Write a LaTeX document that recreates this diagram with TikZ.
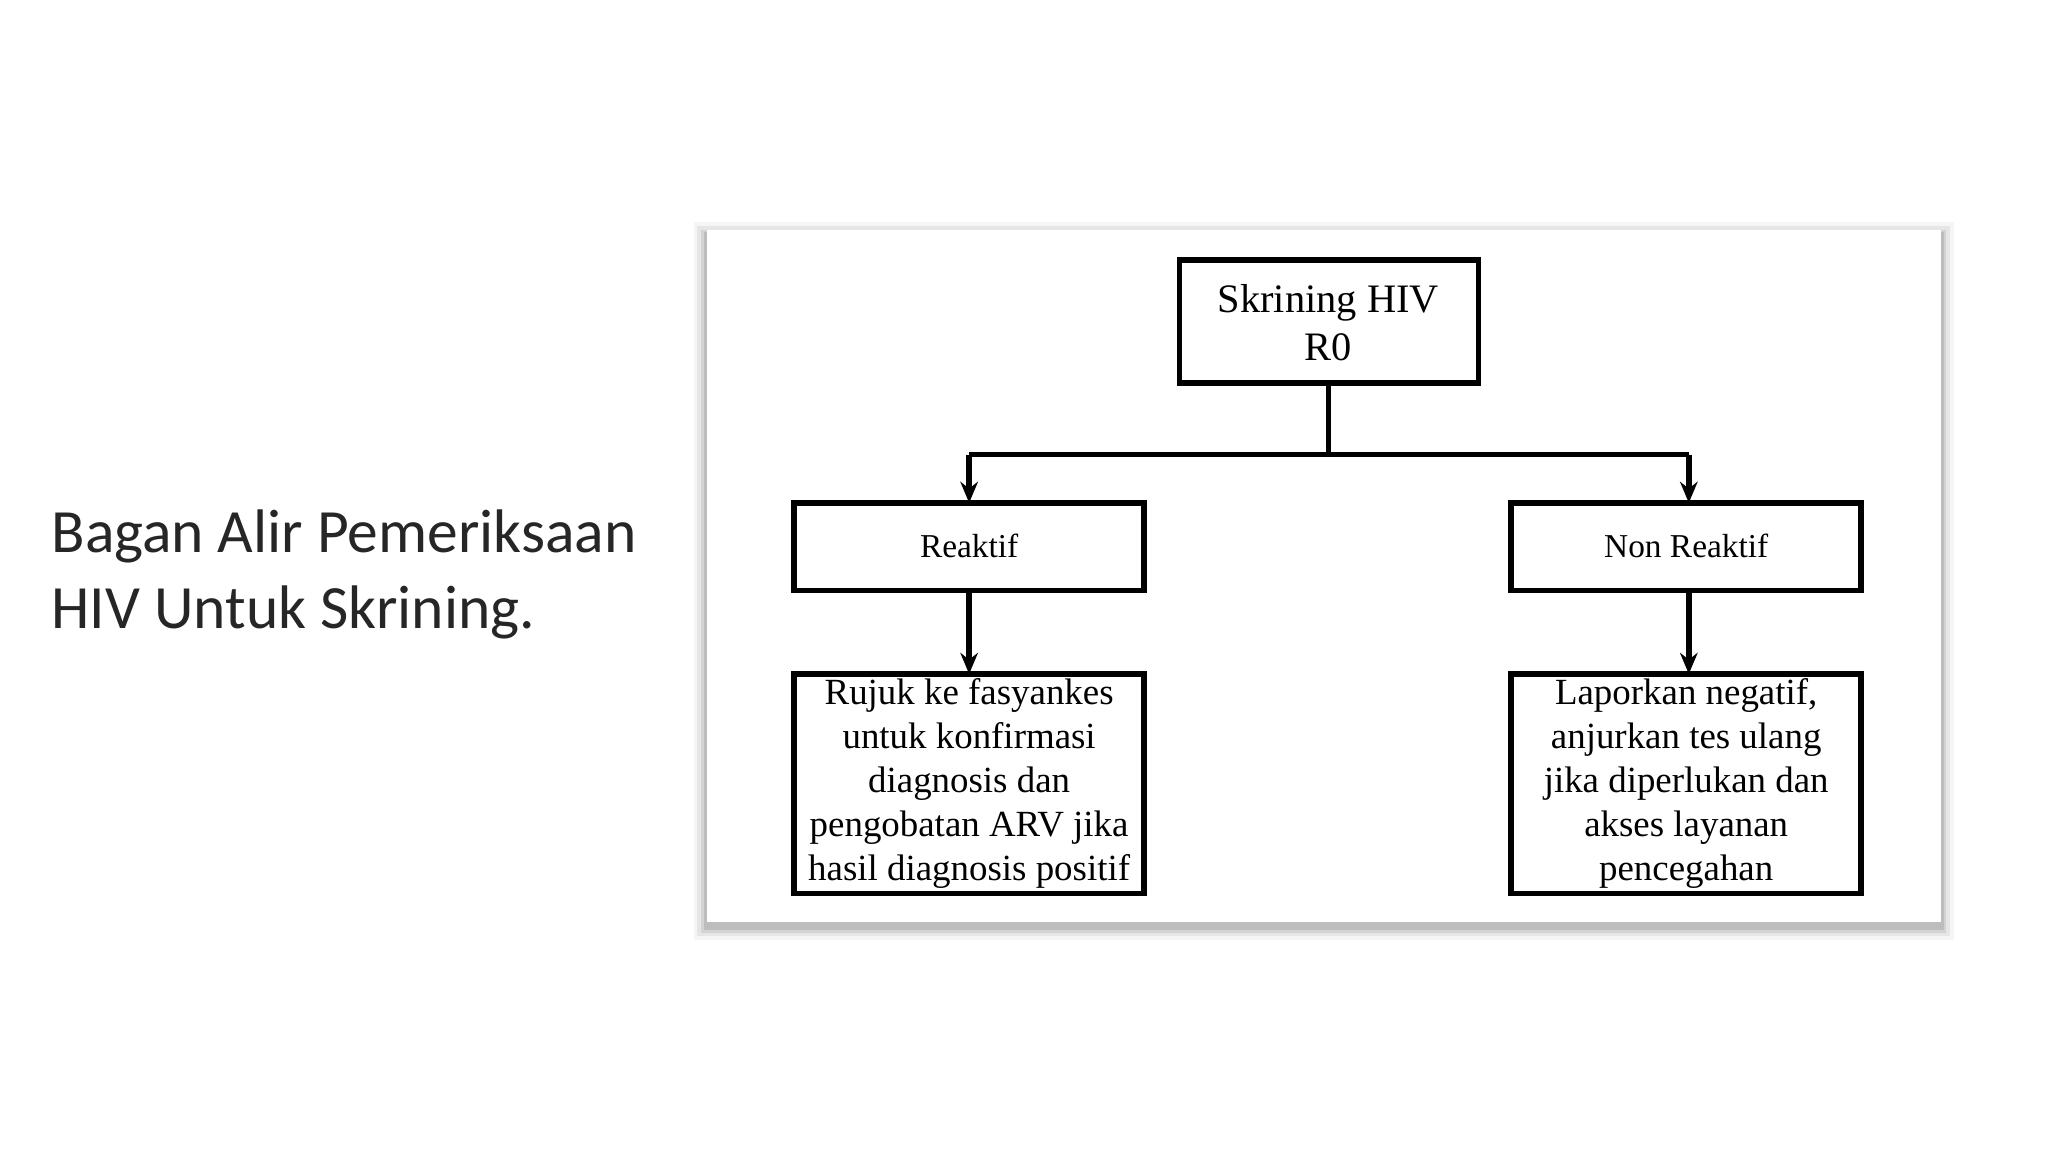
\documentclass[tikz,border=0pt]{standalone}
\usepackage{fontspec}
\setmainfont{Liberation Serif}
\newfontfamily\titlefont{Carlito}
\usetikzlibrary{arrows.meta}
\begin{document}
\begin{tikzpicture}[x=0.013061cm,y=-0.013061cm,
  box/.style={draw,line width=1.6pt,inner sep=0pt},
  lbl/.style={align=center,font=\fontsize{10.5}{12.5}\selectfont},
  small/.style={align=center,font=\fontsize{9.5}{11}\selectfont},
  conn/.style={line width=1.6pt},
  arr/.style={line width=1.6pt,-{Stealth[length=6pt,width=5pt]}}]
\useasboundingbox (0,0) rectangle (1568,882);
\fill[white] (0,0) rectangle (1568,882);
% shadow
\foreach \d/\o in {10/0.04,7/0.06,4/0.08,2/0.1}
  \fill[black,opacity=\o] (541-\d,176-\d+4) rectangle (1486+\d,706+\d+4);
\fill[white] (541,176) rectangle (1486,706);
% title
\node[anchor=west,align=left,font=\titlefont\fontsize{17.5}{21.5}\selectfont,text=black!85] (title) at (30,440) {Bagan Alir Pemeriksaan\\HIV Untuk Skrining.};
% boxes
\draw[box] (903,199) rectangle (1132,293);
\node[lbl,font=\fontsize{11.5}{13.5}\selectfont] (top) at (1017,247) {Skrining HIV\\R0};
\coordinate (topb) at (1017,293);
\draw[box] (608,385) rectangle (876,452);
\node[small] (rk) at (742,418) {Reaktif};
\draw[box] (1157,385) rectangle (1425,452);
\node[small] (nrk) at (1291,418) {Non Reaktif};
\draw[box] (608,516) rectangle (876,684);
\node[lbl] (b1) at (742,600) {Rujuk ke fasyankes\\untuk konfirmasi\\diagnosis dan\\pengobatan ARV jika\\hasil diagnosis positif};
\draw[box] (1157,516) rectangle (1425,684);
\node[lbl] (b2) at (1291,600) {Laporkan negatif,\\anjurkan tes ulang\\jika diperlukan dan\\akses layanan\\pencegahan};
% connectors
\coordinate (j) at (1017,348);
\coordinate (jl) at (742,348);
\coordinate (jr) at (1293,348);
\coordinate (rkt) at (742,385);
\coordinate (nrt) at (1293,385);
\coordinate (rkb) at (742,452);
\coordinate (nrb) at (1293,452);
\coordinate (b1t) at (742,516);
\coordinate (b2t) at (1293,516);
\draw[conn] (topb) -- (j);
\draw[conn] (jl) -- (jr);
\draw[arr] (jl) -- (rkt);
\draw[arr] (jr) -- (nrt);
\draw[arr] (rkb) -- (b1t);
\draw[arr] (nrb) -- (b2t);
\end{tikzpicture}
\end{document}
